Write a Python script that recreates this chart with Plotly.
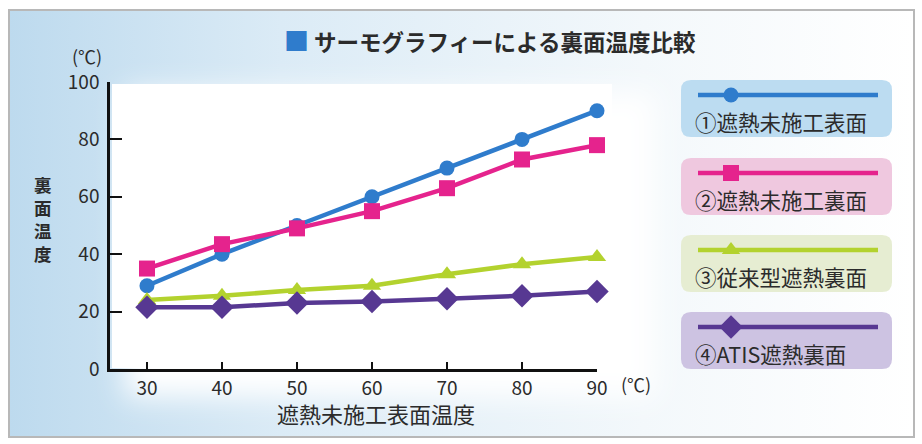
import base64
import plotly.graph_objects as go

# ---- data ----
x_temps = [30, 40, 50, 60, 70, 80, 90]
s1_name = "①遮熱未施工表面"
s1_vals = [29, 40, 50, 60, 70, 80, 90]
s2_name = "②遮熱未施工裏面"
s2_vals = [35, 43.5, 49, 55, 63, 73, 78]
s3_name = "③従来型遮熱裏面"
s3_vals = [24, 25.5, 27.5, 29, 33, 36.5, 39]
s4_name = "④ATIS遮熱裏面"
s4_vals = [21.5, 21.5, 23, 23.5, 24.5, 25.5, 27]
y_ticks = [0, 20, 40, 60, 80, 100]
x_ticks = [30, 40, 50, 60, 70, 80, 90]
y_title_chars = ["裏", "面", "温", "度"]

W, H = 922, 444
L, R, T, B = 110, 597, 82, 369  # plot area pixel bounds

FONT = "Noto Sans CJK JP"
TXT = "#2b2b2b"

series = [
    (s1_name, s1_vals, "#2f7ccc", "circle", 15, "#bcdcf1"),
    (s2_name, s2_vals, "#e5238d", "square", 16, "#efc8df"),
    (s3_name, s3_vals, "#b3d22e", "triangle-up", 16, "#e6edd2"),
    (s4_name, s4_vals, "#573892", "diamond", 18, "#cdc3e2"),
]

# background as svg image
svg = f'''<svg xmlns="http://www.w3.org/2000/svg" width="{W}" height="{H}" viewBox="0 0 {W} {H}">
<defs>
<linearGradient id="g" x1="0" y1="0" x2="1" y2="0">
<stop offset="0" stop-color="#bddaee"/>
<stop offset="0.3" stop-color="#dbebf6"/>
<stop offset="0.7" stop-color="#f3f8fb"/>
<stop offset="1" stop-color="#ffffff"/>
</linearGradient>
<filter id="b" x="-20%" y="-20%" width="140%" height="140%"><feGaussianBlur stdDeviation="14"/></filter>
</defs>
<rect x="0" y="0" width="{W}" height="{H}" fill="#ffffff"/>
<rect x="9" y="10" width="905" height="427" fill="url(#g)" stroke="#b8b8b8" stroke-width="2"/>
<rect x="125" y="92" width="530" height="305" fill="#ffffff" filter="url(#b)"/>
<rect x="112" y="84" width="500" height="284" fill="#ffffff"/>
</svg>'''
svg_uri = "data:image/svg+xml;base64," + base64.b64encode(svg.encode("utf-8")).decode()

fig = go.Figure()

for name, vals, col, sym, sz, _ in series:
    fig.add_trace(go.Scatter(
        x=x_temps, y=vals, mode="lines+markers", name=name,
        line=dict(color=col, width=4.5),
        marker=dict(symbol=sym, size=sz, color=col, line=dict(width=0)),
        cliponaxis=False, showlegend=False, hoverinfo="x+y+name",
    ))

# custom legend in pixel coordinates (x2/y2 span the whole figure)
shapes = []
annotations = []
box_tops = [80, 158, 235, 312]
for (name, vals, col, sym, sz, bg), top in zip(series, box_tops):
    x0, x1, y0, y1 = 681, 892, top, top + 57
    r = 10
    path = (f"M {x0 + r} {y0} L {x1 - r} {y0} Q {x1} {y0} {x1} {y0 + r} "
            f"L {x1} {y1 - r} Q {x1} {y1} {x1 - r} {y1} "
            f"L {x0 + r} {y1} Q {x0} {y1} {x0} {y1 - r} "
            f"L {x0} {y0 + r} Q {x0} {y0} {x0 + r} {y0} Z")
    shapes.append(dict(type="path", path=path, xref="x2", yref="y2",
                       fillcolor=bg, line=dict(width=0), layer="below"))
    ly = top + 15
    fig.add_trace(go.Scatter(
        x=[698, 878], y=[ly, ly], mode="lines", xaxis="x2", yaxis="y2",
        line=dict(color=col, width=4.5), showlegend=False, hoverinfo="skip"))
    fig.add_trace(go.Scatter(
        x=[731], y=[ly], mode="markers", xaxis="x2", yaxis="y2",
        marker=dict(symbol=sym, size=sz, color=col, line=dict(width=0)),
        showlegend=False, hoverinfo="skip"))
    annotations.append(dict(text=name, x=693, y=top + 41, xref="x2", yref="y2",
                            xanchor="left", yanchor="middle", showarrow=False,
                            font=dict(family=FONT, size=21.5, color=TXT)))

# title
annotations.append(dict(
    text='<span style="color:#2f7ccc;font-size:25px">■</span> <b>サーモグラフィーによる裏面温度比較</b>',
    x=490, y=40, xref="x2", yref="y2", xanchor="center", yanchor="middle",
    showarrow=False, font=dict(family=FONT, size=22.5, color=TXT)))
# unit labels
annotations.append(dict(text="(℃)", x=87, y=56, xref="x2", yref="y2",
                        xanchor="center", yanchor="middle", showarrow=False,
                        font=dict(family=FONT, size=18, color=TXT)))
annotations.append(dict(text="(℃)", x=636, y=384, xref="x2", yref="y2",
                        xanchor="center", yanchor="middle", showarrow=False,
                        font=dict(family=FONT, size=18, color=TXT)))
# axis titles
for i, ch in enumerate(y_title_chars):
    annotations.append(dict(text=f"<b>{ch}</b>", x=43, y=184 + 23 * i, xref="x2", yref="y2",
                            xanchor="center", yanchor="middle", showarrow=False, borderpad=0,
                            font=dict(family=FONT, size=17.5, color=TXT)))
annotations.append(dict(text="遮熱未施工表面温度", x=376, y=413, xref="x2", yref="y2",
                        xanchor="center", yanchor="middle", showarrow=False,
                        font=dict(family=FONT, size=22, color=TXT)))

fig.update_layout(
    width=W, height=H,
    margin=dict(l=0, r=0, t=0, b=0, autoexpand=False),
    paper_bgcolor="rgba(0,0,0,0)", plot_bgcolor="rgba(0,0,0,0)",
    font=dict(family=FONT, color=TXT),
    images=[dict(source=svg_uri, xref="paper", yref="paper", x=0, y=1,
                 sizex=1, sizey=1, sizing="stretch",
                 xanchor="left", yanchor="top", layer="below")],
    shapes=shapes, annotations=annotations,
    xaxis=dict(domain=[L / W, R / W], range=[25.07, 90], tickvals=x_ticks, ticks="inside",
               ticklen=7, tickwidth=2, tickcolor="#111", showline=True, linecolor="#111",
               linewidth=2.5, showgrid=False, zeroline=False,
               tickfont=dict(family=FONT, size=19, color=TXT), fixedrange=True),
    yaxis=dict(domain=[(H - B) / H, (H - T) / H], range=[0, 100], tickvals=y_ticks,
               ticks="inside", ticklen=12, tickwidth=2, tickcolor="#111", showline=True,
               linecolor="#111", linewidth=2.5, showgrid=False, zeroline=False,
               tickfont=dict(family=FONT, size=19, color=TXT), ticklabelstandoff=4,
               fixedrange=True),
    xaxis2=dict(range=[0, W], domain=[0, 1], anchor="y2", visible=False, fixedrange=True),
    yaxis2=dict(range=[H, 0], domain=[0, 1], anchor="x2", visible=False, fixedrange=True),
)

fig.write_html("out.html", config={"displayModeBar": False},
               post_script="document.body.style.margin='0';document.body.style.overflow='hidden';")
